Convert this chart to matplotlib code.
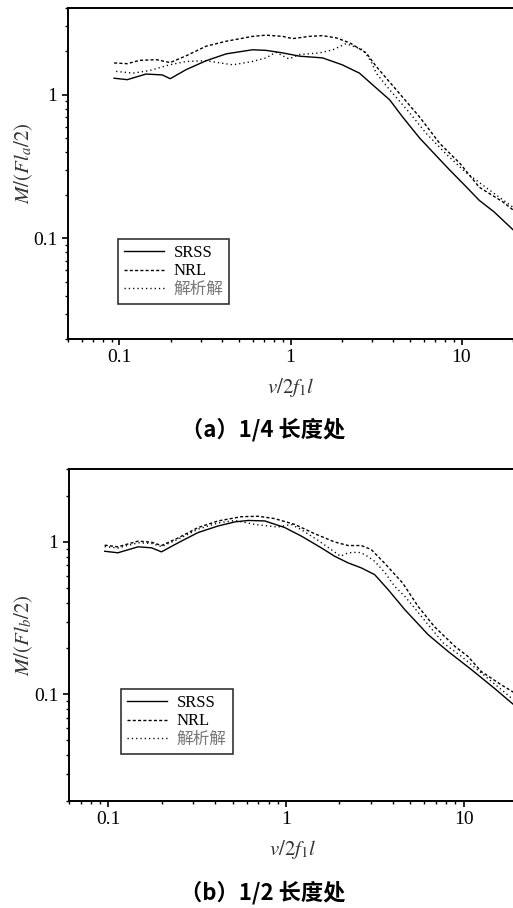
import numpy as np
import matplotlib
matplotlib.use('Agg')
import matplotlib.pyplot as plt
from matplotlib.ticker import LogLocator, FuncFormatter, NullFormatter

plt.rcParams['font.family'] = ['Liberation Serif', 'Noto Sans CJK SC']
plt.rcParams['mathtext.fontset'] = 'stix'

# (a) 1/4 长度处
srss_a_x = [0.093, 0.111, 0.143, 0.178, 0.198, 0.245, 0.321, 0.421, 0.60, 0.72, 0.90, 1.13, 1.54, 2.01,
            2.53, 3.02, 3.80, 4.52, 5.68, 6.77, 8.51, 10.6, 12.7, 15.5, 20.0]
srss_a_y = [1.30, 1.27, 1.39, 1.37, 1.29, 1.49, 1.72, 1.92, 2.05, 2.03, 1.95, 1.85, 1.80, 1.61,
            1.41, 1.17, 0.92, 0.70, 0.50, 0.40, 0.30, 0.23, 0.184, 0.153, 0.115]
nrl_a_x = [0.093, 0.111, 0.131, 0.164, 0.198, 0.245, 0.321, 0.421, 0.60, 0.72, 0.90, 1.03, 1.29, 1.54,
           1.85, 2.22, 2.77, 3.17, 4.33, 5.68, 7.47, 9.82, 12.7, 17.4, 20.0]
nrl_a_y = [1.66, 1.64, 1.73, 1.75, 1.67, 1.86, 2.17, 2.35, 2.54, 2.59, 2.54, 2.45, 2.54, 2.57,
           2.48, 2.29, 1.95, 1.57, 1.02, 0.70, 0.457, 0.331, 0.227, 0.18, 0.158]
ana_a_x = [0.0956, 0.120, 0.150, 0.196, 0.245, 0.321, 0.46, 0.60, 0.72, 0.82, 0.98, 1.13, 1.48, 1.77,
           2.11, 2.65, 2.96, 3.17, 3.80, 5.0, 6.22, 8.15, 10.6, 13.9, 20.0]
ana_a_y = [1.45, 1.41, 1.47, 1.61, 1.70, 1.72, 1.61, 1.70, 1.80, 1.97, 1.77, 1.90, 1.95, 2.05,
           2.26, 2.05, 1.70, 1.41, 1.08, 0.741, 0.537, 0.385, 0.288, 0.226, 0.165]

# (b) 1/2 长度处
srss_b_x = [0.0953, 0.113, 0.147, 0.175, 0.199, 0.247, 0.320, 0.415, 0.515, 0.613, 0.760, 0.984, 1.22,
            1.58, 1.88, 2.24, 2.66, 3.16, 3.76, 4.67, 6.32, 8.19, 11.1, 15.0, 20.0]
srss_b_y = [0.867, 0.847, 0.927, 0.913, 0.859, 0.985, 1.15, 1.27, 1.35, 1.38, 1.37, 1.24, 1.09,
            0.913, 0.804, 0.727, 0.674, 0.609, 0.486, 0.359, 0.246, 0.191, 0.145, 0.109, 0.082]
nrl_b_x = [0.0953, 0.113, 0.147, 0.175, 0.199, 0.247, 0.320, 0.415, 0.56, 0.70, 0.86, 1.12, 1.45,
           1.88, 2.24, 2.66, 3.02, 3.58, 4.54, 5.55, 6.85, 8.95, 10.6, 12.6, 16.4, 20.0]
nrl_b_y = [0.950, 0.927, 1.01, 0.994, 0.945, 1.06, 1.24, 1.37, 1.46, 1.47, 1.42, 1.30, 1.13,
           0.997, 0.945, 0.945, 0.89, 0.727, 0.537, 0.377, 0.278, 0.206, 0.177, 0.141, 0.115, 0.100]
ana_b_x = [0.0953, 0.113, 0.147, 0.175, 0.199, 0.247, 0.320, 0.415, 0.515, 0.667, 0.794, 0.90, 1.07,
           1.22, 1.52, 2.03, 2.24, 2.56, 2.78, 3.16, 3.62, 4.09, 4.67, 5.3, 6.32, 7.69, 9.75, 12.6,
           16.4, 20.0]
ana_b_y = [0.93, 0.91, 0.985, 0.975, 0.93, 1.04, 1.21, 1.33, 1.38, 1.30, 1.27, 1.25, 1.30,
           1.20, 1.02, 0.804, 0.847, 0.854, 0.825, 0.745, 0.625, 0.511, 0.439, 0.368, 0.286, 0.217,
           0.177, 0.138, 0.107, 0.088]

labels = ['SRSS', 'NRL', '解析解']

fig = plt.figure(figsize=(5.13, 9.08), dpi=100)

panels = [
    dict(rect=[68 / 513, 1 - 339 / 908, 445 / 513, 331 / 908], xlim=(0.05, 20), ylim=(0.02, 4),
         data=[(srss_a_x, srss_a_y), (nrl_a_x, nrl_a_y), (ana_a_x, ana_a_y)],
         ylabel='$M/(Fl_a/2)$', leg=(0.112, 0.302), ylab_y=0.53,
         caption='（a）1/4 长度处', cap_y=1 - 430 / 908),
    dict(rect=[69 / 513, 1 - 801 / 908, 448 / 513, 332 / 908], xlim=(0.06, 20), ylim=(0.02, 3),
         data=[(srss_b_x, srss_b_y), (nrl_b_x, nrl_b_y), (ana_b_x, ana_b_y)],
         ylabel='$M/(Fl_b/2)$', leg=(0.116, 0.337), ylab_y=0.5,
         caption='（b）1/2 长度处', cap_y=1 - 893 / 908),
]

styles = [dict(ls='-', lw=1.0),
          dict(ls=(0, (2.2, 1.6)), lw=1.0),
          dict(ls=(0, (0.9, 2.2)), lw=1.0)]

for p in panels:
    ax = fig.add_axes(p['rect'])
    for (xs, ys), st, lab in zip(p['data'], styles, labels):
        ax.plot(xs, ys, color='black', label=lab, **st)
    ax.set_xscale('log')
    ax.set_yscale('log')
    ax.set_xlim(*p['xlim'])
    ax.set_ylim(*p['ylim'])
    ax.spines['right'].set_visible(False)
    for s in ['left', 'bottom', 'top']:
        ax.spines[s].set_linewidth(1.4)
    ax.tick_params(which='major', direction='out', length=4, width=1.2, labelsize=14,
                   right=False, top=False)
    ax.tick_params(which='minor', direction='out', length=2.5, width=1.0, right=False, top=False)
    fmt = FuncFormatter(lambda v, pos: '%g' % v)
    ax.xaxis.set_major_formatter(fmt)
    ax.yaxis.set_major_formatter(fmt)
    ax.xaxis.set_minor_formatter(NullFormatter())
    ax.yaxis.set_minor_formatter(NullFormatter())
    ax.xaxis.set_minor_locator(LogLocator(base=10, subs=np.arange(2, 10)))
    ax.yaxis.set_minor_locator(LogLocator(base=10, subs=np.arange(2, 10)))
    ax.set_xlabel('$v/2f_1l$', fontsize=15, color='#333333', labelpad=7)
    ax.set_ylabel(p['ylabel'], fontsize=15, color='#333333')
    ax.yaxis.set_label_coords(-0.075, p['ylab_y'])
    leg = ax.legend(loc='upper left', bbox_to_anchor=p['leg'], borderaxespad=0, fontsize=12,
                    frameon=True, fancybox=False, edgecolor='black', handlelength=2.4,
                    handletextpad=0.6, labelspacing=0.15, borderpad=0.35)
    leg.get_frame().set_linewidth(1.2)
    leg.get_texts()[2].set_color('#777777')
    fig.text(263 / 513, p['cap_y'], p['caption'], ha='center', va='center', fontsize=16,
             fontweight='bold', family=['Noto Sans CJK SC', 'DejaVu Sans'])

fig.savefig('out.png', dpi=100)
